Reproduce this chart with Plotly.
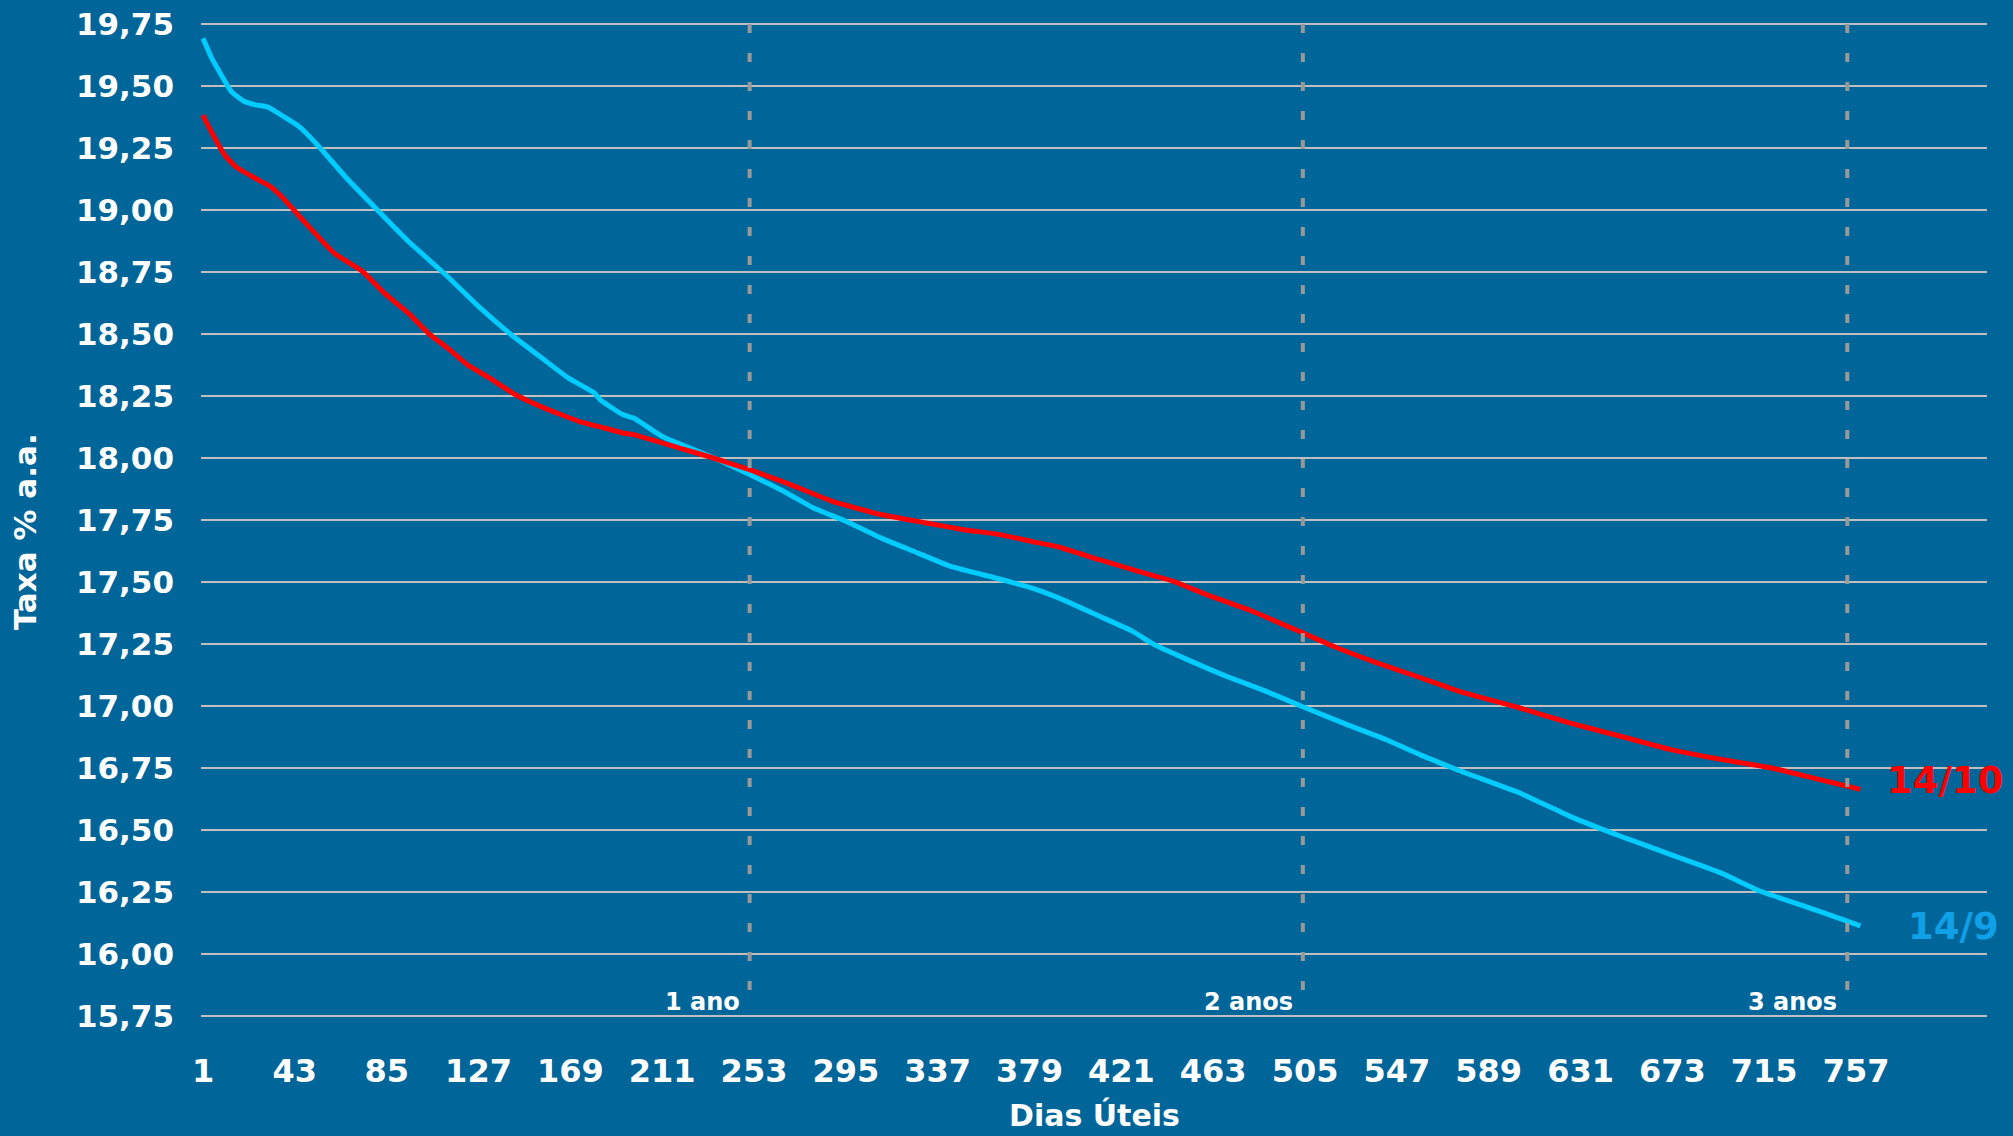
import plotly.graph_objects as go

# --- data ---
dias_149 = [1, 5, 8, 14, 20, 25, 31, 38, 45, 54, 66, 83, 95, 112, 127, 142, 156, 168, 180, 183,
            193, 198, 211, 233, 251, 268, 280, 295, 311, 326, 343, 365, 381, 396, 411, 426, 436,
            451, 469, 487, 504, 524, 542, 558, 576, 603, 626, 649, 672, 695, 713, 733, 753, 759]
taxa_149 = [19.692, 19.612, 19.565, 19.477, 19.437, 19.424, 19.414, 19.376, 19.336, 19.256,
            19.135, 18.980, 18.873, 18.739, 18.611, 18.497, 18.403, 18.323, 18.262, 18.232,
            18.175, 18.161, 18.087, 18.007, 17.933, 17.859, 17.799, 17.745, 17.678, 17.624,
            17.563, 17.513, 17.473, 17.422, 17.362, 17.302, 17.248, 17.188, 17.120, 17.060,
            16.997, 16.926, 16.865, 16.802, 16.738, 16.650, 16.556, 16.476, 16.402, 16.328,
            16.254, 16.194, 16.133, 16.113]

dias_1410 = [1, 4, 11, 16, 25, 32, 37, 48, 61, 74, 84, 95, 104, 113, 122, 132, 144, 157, 173,
             185, 193, 198, 219, 233, 251, 268, 289, 311, 332, 349, 365, 381, 392, 411, 434,
             445, 460, 481, 504, 518, 538, 556, 576, 603, 626, 649, 672, 695, 718, 740, 753, 759]
taxa_1410 = [19.383, 19.330, 19.222, 19.175, 19.128, 19.094, 19.054, 18.947, 18.826, 18.752,
             18.665, 18.584, 18.504, 18.443, 18.376, 18.323, 18.255, 18.202, 18.148, 18.120,
             18.101, 18.094, 18.040, 18.004, 17.953, 17.899, 17.825, 17.772, 17.738, 17.711,
             17.692, 17.662, 17.642, 17.590, 17.530, 17.503, 17.449, 17.382, 17.295, 17.241,
             17.174, 17.120, 17.058, 16.993, 16.932, 16.879, 16.825, 16.785, 16.751, 16.704,
             16.677, 16.664]

x_ticks = list(range(1, 758, 42))
y_ticks = [15.75 + 0.25 * i for i in range(17)]
y_tick_labels = [f"{v:.2f}".replace(".", ",") for v in y_ticks]

marco_dias = [251, 504, 753]
marco_rotulos = ["1 ano", "2 anos", "3 anos"]

serie_nomes = ["14/9", "14/10"]

# --- styles ---
BG = "#006699"
FONT = "DejaVu Sans"
CYAN = "#00CCFF"
RED = "#FF0000"
LBL_BLUE = "#0FA0E8"
GRID = "#BFBFBF"

fig = go.Figure()

for d in marco_dias:
    fig.add_shape(type="line", xref="x", yref="y", x0=d, x1=d, y0=19.75, y1=15.79,
                  line=dict(color="#999999", width=4, dash="9px,20px"), layer="above")

fig.add_trace(go.Scatter(x=dias_149, y=taxa_149, mode="lines", name=serie_nomes[0],
                         line=dict(color=CYAN, width=5, shape="spline", smoothing=0.4)))
fig.add_trace(go.Scatter(x=dias_1410, y=taxa_1410, mode="lines", name=serie_nomes[1],
                         line=dict(color=RED, width=5, shape="spline", smoothing=0.4)))

annotations = []
for d, t in zip(marco_dias, marco_rotulos):
    annotations.append(dict(x=d, y=15.805, xref="x", yref="y", text=t, showarrow=False,
                            xanchor="right", yanchor="middle", xshift=-8,
                            font=dict(family=FONT, size=24, color="white", weight="bold")))

annotations.append(dict(x=dias_1410[-1], y=taxa_1410[-1] + 0.035, xref="x", yref="y",
                        text=serie_nomes[1], showarrow=False, xanchor="left", yanchor="middle",
                        xshift=25,
                        font=dict(family=FONT, size=37, color=RED, weight="bold")))
annotations.append(dict(x=dias_149[-1], y=taxa_149[-1], xref="x", yref="y",
                        text=serie_nomes[0], showarrow=False, xanchor="left", yanchor="middle",
                        xshift=46,
                        font=dict(family=FONT, size=37, color=LBL_BLUE, weight="bold")))

annotations.append(dict(x=0.5, y=-0.0965, xref="paper", yref="paper", text="Dias Úteis",
                        showarrow=False, xanchor="center", yanchor="middle",
                        font=dict(family=FONT, size=30, color="white", weight="bold")))
annotations.append(dict(x=-0.0985, y=0.4877, xref="paper", yref="paper", text="Taxa % a.a.",
                        showarrow=False, xanchor="center", yanchor="middle", textangle=-90,
                        font=dict(family=FONT, size=31, color="white", weight="bold")))

fig.update_layout(
    template="none",
    width=2013, height=1136,
    margin=dict(l=201, r=26, t=21, b=117, autoexpand=False),
    paper_bgcolor=BG, plot_bgcolor=BG,
    showlegend=False,
    annotations=annotations,
    xaxis=dict(range=[0.085, 816.9], tickmode="array", tickvals=x_ticks,
               ticktext=[str(v) for v in x_ticks], showgrid=False, zeroline=False,
               showline=False, ticks="", ticklabelstandoff=30, automargin=False,
               tickfont=dict(family=FONT, size=32, color="white", weight="bold")),
    yaxis=dict(range=[15.738, 19.762], tickmode="array", tickvals=y_ticks,
               ticktext=y_tick_labels, showgrid=True, gridcolor=GRID, gridwidth=2,
               zeroline=False, showline=False, ticks="", ticklabelstandoff=26,
               automargin=False,
               tickfont=dict(family=FONT, size=31, color="white", weight="bold")),
)

fig.write_html("out.html", post_script="document.body.style.margin='0';",
               config={"displayModeBar": False})
